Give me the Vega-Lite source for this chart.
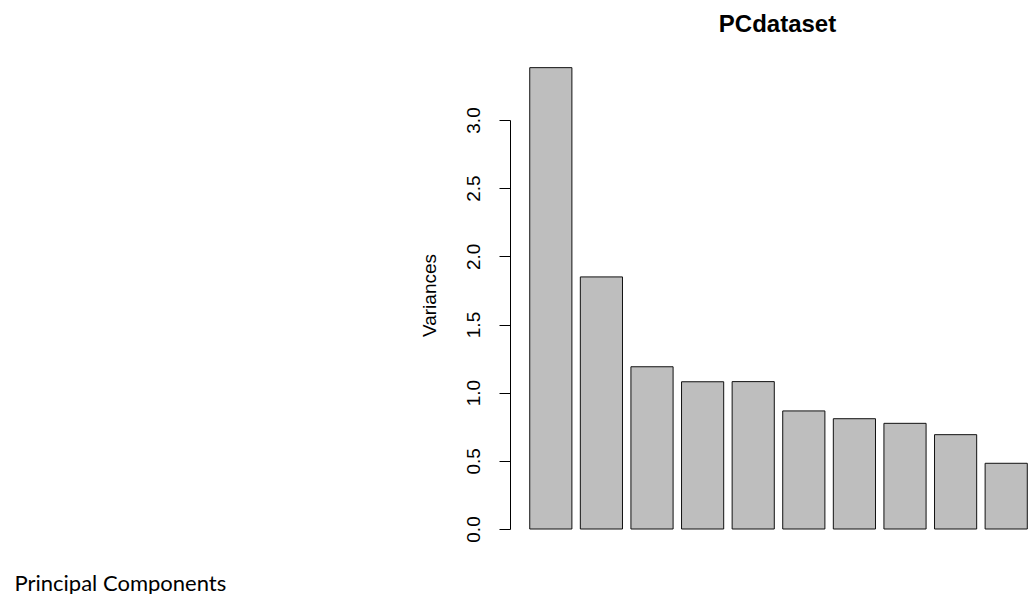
{
  "$schema": "https://vega.github.io/schema/vega-lite/v6.json",
  "autosize": "none",
  "width": 519,
  "height": 409,
  "padding": {"left": 510, "top": 120, "right": 0, "bottom": 65},
  "background": "white",
  "config": {"view": {"stroke": null}},
  "title": {
    "text": "PCdataset",
    "font": "Liberation Sans",
    "fontSize": 24,
    "fontWeight": "bold",
    "color": "black",
    "anchor": "middle",
    "dx": 8,
    "baseline": "alphabetic",
    "offset": 11
  },
  "data": {
    "values": [
      {"PC": "PC1", "Variance": 3.384},
      {"PC": "PC2", "Variance": 1.849},
      {"PC": "PC3", "Variance": 1.19},
      {"PC": "PC4", "Variance": 1.08},
      {"PC": "PC5", "Variance": 1.081},
      {"PC": "PC6", "Variance": 0.866},
      {"PC": "PC7", "Variance": 0.809},
      {"PC": "PC8", "Variance": 0.775},
      {"PC": "PC9", "Variance": 0.692},
      {"PC": "PC10", "Variance": 0.482}
    ]
  },
  "mark": {"type": "bar", "fill": "#bebebe", "stroke": "#111111", "strokeWidth": 1},
  "encoding": {
    "x": {
      "field": "PC",
      "type": "nominal",
      "sort": null,
      "scale": {"paddingInner": 0.1667, "paddingOuter": 0.212, "align": 0.92},
      "axis": {
        "title": "Principal Components",
        "labels": false,
        "ticks": false,
        "domain": false,
        "titleFont": "Lato",
        "titleFontSize": 22,
        "titleFontWeight": "normal",
        "titleColor": "black",
        "titleX": -496,
        "titleY": 61,
        "titleAlign": "left",
        "titleBaseline": "alphabetic"
      }
    },
    "y": {
      "field": "Variance",
      "type": "quantitative",
      "scale": {"domain": [0, 3], "nice": false, "zero": true},
      "axis": {
        "title": "Variances",
        "values": [0, 0.5, 1, 1.5, 2, 2.5, 3],
        "format": ".1f",
        "grid": false,
        "domainColor": "black",
        "tickColor": "black",
        "tickSize": 11,
        "labelAngle": -90,
        "labelAlign": "center",
        "labelBaseline": "alphabetic",
        "labelPadding": 20,
        "labelFont": "Liberation Sans",
        "labelFontSize": 19,
        "labelColor": "black",
        "titleFont": "Liberation Sans",
        "titleFontSize": 19,
        "titleFontWeight": "normal",
        "titleColor": "black",
        "titleAngle": -90,
        "titleX": -75,
        "titleY": 175,
        "titleAlign": "center",
        "titleBaseline": "alphabetic"
      }
    }
  }
}
